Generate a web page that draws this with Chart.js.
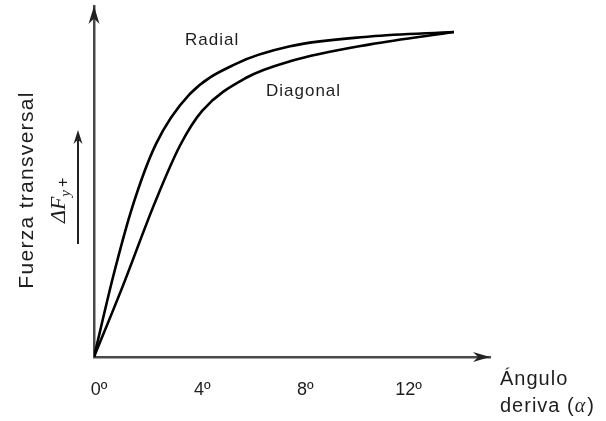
<!DOCTYPE html>
<html>
<head>
<meta charset="utf-8">
<script src="https://cdn.jsdelivr.net/npm/chart.js@4/dist/chart.umd.min.js"></script>
<style>
	html, body { margin: 0; background: #fff; }
</style>
</head>
<body>
<canvas id="chart" width="606" height="421"></canvas>
<script>
// Lateral force vs slip angle, radial vs diagonal (bias) tyre
const xTicks = [0, 4, 8, 12];
const radialX = [0, 0.75, 1.5, 2.4, 3.7, 5.5, 7.6, 10.7, 13.95];
const radialY = [0, 25, 46.5, 65.5, 80.8, 90.2, 95.6, 98.6, 100];
const diagX = [0, 1.1, 2.36, 3.33, 4.2, 5.92, 7.6, 10.7, 13.95];
const diagY = [0, 21.5, 47.5, 65, 75.8, 86, 91, 96.2, 100];

const AXIS = '#4a4a4a';
const INK = '#1e1e1e';
const SANS = '"Liberation Sans", Arial, sans-serif';
const SERIF = '"Liberation Serif", "Times New Roman", serif';

const toPts = (xs, ys) => xs.map((x, i) => ({ x, y: ys[i] }));

// barbed arrow head, tip at (x, y), pointing along angle a
function arrowHead(ctx, x, y, a, len, half) {
	ctx.save();
	ctx.translate(x, y);
	ctx.rotate(a);
	ctx.beginPath();
	ctx.moveTo(0, 0);
	ctx.lineTo(-len, -half);
	ctx.lineTo(-len * 0.7, 0);
	ctx.lineTo(-len, half);
	ctx.closePath();
	ctx.fill();
	ctx.restore();
}

const decor = {
	id: 'decor',
	afterDraw(chart) {
		const ctx = chart.ctx;
		const a = chart.chartArea;
		ctx.save();
		ctx.fillStyle = '#222';
		arrowHead(ctx, a.right, a.bottom, 0, 17, 5);
		arrowHead(ctx, a.left, a.top, -Math.PI / 2, 18, 5.5);

		// small ΔFy arrow beside the y axis
		ctx.strokeStyle = '#222';
		ctx.lineWidth = 2;
		ctx.beginPath();
		ctx.moveTo(78, 244);
		ctx.lineTo(78, 140);
		ctx.stroke();
		arrowHead(ctx, 78, 130, -Math.PI / 2, 14, 4.5);

		ctx.fillStyle = INK;
		if ('letterSpacing' in ctx) ctx.letterSpacing = '1px';
		ctx.textBaseline = 'alphabetic';
		ctx.textAlign = 'left';

		ctx.font = `17px ${SANS}`;
		ctx.fillText('Radial', 185, 45);
		ctx.fillText('Diagonal', 266, 96);

		ctx.font = `20px ${SANS}`;
		ctx.fillText('Ángulo', 500, 385);
		let x = 500;
		ctx.fillText('deriva (', x, 412);
		x += ctx.measureText('deriva (').width;
		ctx.font = `italic 20px ${SERIF}`;
		ctx.fillText('α', x, 412);
		x += ctx.measureText('α').width + 1;
		ctx.font = `20px ${SANS}`;
		ctx.fillText(')', x, 412);

		// y axis title, rotated
		ctx.save();
		ctx.translate(33, 190);
		ctx.rotate(-Math.PI / 2);
		ctx.textAlign = 'center';
		ctx.font = `21px ${SANS}`;
		if ('letterSpacing' in ctx) ctx.letterSpacing = '1.3px';
		ctx.fillText('Fuerza transversal', 0, 0);
		ctx.restore();

		ctx.save();
		ctx.translate(65, 223);
		ctx.rotate(-Math.PI / 2);
		if ('letterSpacing' in ctx) ctx.letterSpacing = '0px';
		ctx.font = `italic 22px ${SERIF}`;
		ctx.fillText('ΔF', 0, 0);
		let t = ctx.measureText('ΔF').width;
		ctx.font = `italic 15px ${SERIF}`;
		ctx.fillText('y', t, 5);
		t += ctx.measureText('y').width + 3;
		ctx.font = `16px ${SANS}`;
		ctx.fillText('+', t, 3);
		ctx.restore();

		ctx.restore();
	}
};

const line = (label, pts) => ({
	label,
	data: pts,
	borderColor: '#000',
	borderWidth: 2.6,
	pointRadius: 0,
	fill: false,
	cubicInterpolationMode: 'monotone'
});

new Chart(document.getElementById('chart'), {
	type: 'line',
	data: {
		datasets: [
			line('Radial', toPts(radialX, radialY)),
			line('Diagonal', toPts(diagX, diagY))
		]
	},
	options: {
		responsive: false,
		devicePixelRatio: 1,
		animation: false,
		events: [],
		layout: { padding: { top: 6, right: 116, left: 0, bottom: 0 } },
		plugins: { legend: { display: false }, tooltip: { enabled: false } },
		scales: {
			x: {
				type: 'linear',
				min: 0,
				max: 15.35,
				grid: { display: false, drawTicks: false },
				border: { display: true, color: AXIS, width: 2.5 },
				afterBuildTicks: s => { s.ticks = xTicks.map(v => ({ value: v })); },
				afterFit: s => { s.height = 64; },
				ticks: {
					padding: 22,
					labelOffset: 5,
					color: INK,
					font: { family: SANS, size: 18 },
					maxRotation: 0,
					callback: v => v + 'º'
				}
			},
			y: {
				type: 'linear',
				min: 0,
				max: 108,
				grid: { display: false, drawTicks: false },
				border: { display: true, color: AXIS, width: 2.5 },
				afterFit: s => { s.width = 94; },
				ticks: { display: false }
			}
		}
	},
	plugins: [decor]
});
</script>
</body>
</html>
